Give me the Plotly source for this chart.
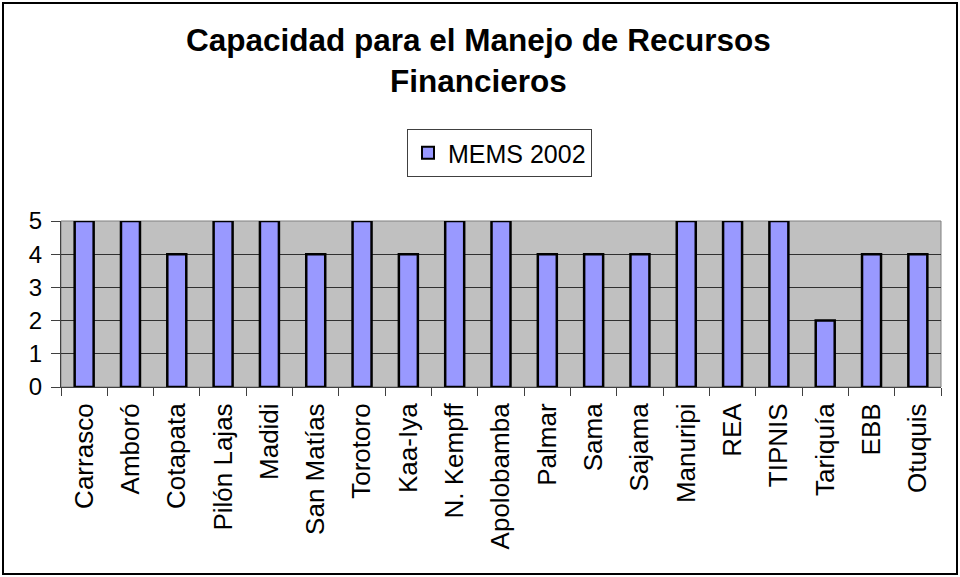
import plotly.graph_objects as go

categories = ["Carrasco", "Amboró", "Cotapata", "Pilón Lajas", "Madidi", "San Matías",
              "Torotoro", "Kaa-Iya", "N. Kempff", "Apolobamba", "Palmar", "Sama",
              "Sajama", "Manuripi", "REA", "TIPNIS", "Tariquía", "EBB", "Otuquis"]
values = [5, 5, 4, 5, 5, 4, 5, 4, 5, 5, 4, 4, 4, 5, 5, 5, 2, 4, 4]
series_name = "MEMS 2002"
title_text = "Capacidad para el Manejo de Recursos<br>Financieros"
y_ticks = [0, 1, 2, 3, 4, 5]

W, H = 960, 577
L, R, T, B = 61, 941, 221, 387
FONT = "Liberation Sans, Arial, sans-serif"

def px_x(px):
    return (px - L) / (R - L)

def px_y(py):
    return (B - py) / (B - T)

fig = go.Figure()
fig.add_trace(go.Bar(
    x=categories, y=values, name=series_name,
    marker=dict(color="#9999FF", line=dict(color="black", width=2.5)),
    showlegend=True,
))

fig.update_layout(
    width=W, height=H,
    margin=dict(l=L, r=W - R, t=T, b=H - B, pad=0),
    paper_bgcolor="white",
    plot_bgcolor="#C0C0C0",
    bargap=0.59,
    font=dict(family=FONT, color="black"),
    showlegend=True,
    legend=dict(
        x=px_x(407), y=px_y(129), xanchor="left", yanchor="top",
        bordercolor="#404040", borderwidth=1, bgcolor="white",
        font=dict(size=25, family=FONT),
        itemsizing="constant",
    ),
    xaxis=dict(
        type="category",
        tickangle=-90,
        tickfont=dict(size=26, family=FONT),
        ticks="outside", ticklen=8, tickcolor="#404040", tickwidth=1,
        tickson="boundaries",
        showline=True, linecolor="#404040", linewidth=1,
        showgrid=False,
        ticklabelstandoff=5,
        range=[-0.5, len(categories) - 0.5],
    ),
    yaxis=dict(
        range=[0, 5],
        tickvals=y_ticks,
        tickfont=dict(size=24, family=FONT),
        ticks="outside", ticklen=9, tickcolor="#404040", tickwidth=1,
        showline=True, linecolor="#404040", linewidth=1,
        showgrid=True, gridcolor="#303030", gridwidth=1,
        zeroline=False,
        ticklabelstandoff=4,
    ),
    annotations=[dict(
        text="<b>" + title_text + "</b>",
        xref="paper", yref="paper",
        x=px_x(478), y=px_y(20), xanchor="center", yanchor="top",
        showarrow=False, align="center",
        font=dict(size=31.5, family=FONT, color="black"),
    )],
    shapes=[
        dict(type="rect", xref="paper", yref="paper",
             x0=px_x(3), x1=px_x(957), y0=px_y(574), y1=px_y(3),
             line=dict(color="black", width=2), layer="below"),
        dict(type="rect", xref="paper", yref="paper",
             x0=0, x1=1, y0=0, y1=1,
             line=dict(color="#808080", width=1), layer="below"),
    ],
)

fig.write_html(
    "out.html",
    config={"displayModeBar": False},
    post_script="document.body.style.margin='0';document.body.style.overflow='hidden';",
)
